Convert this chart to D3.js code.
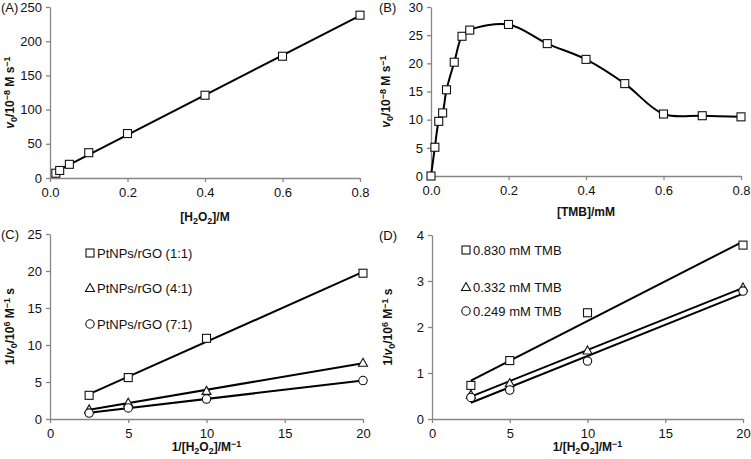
<!DOCTYPE html>
<html><head><meta charset="utf-8">
<script src="https://cdn.jsdelivr.net/npm/d3@7"></script>
<style>body{margin:0;background:#fff}svg{display:block}text{font-family:"Liberation Sans",Arial,sans-serif}</style>
</head><body><svg id="c" width="751" height="459"></svg>
<script>
// Panel A
const aX = [0.015, 0.025, 0.05, 0.1, 0.2, 0.4, 0.6, 0.8];
const aY = [7, 11, 20, 37, 65, 121, 178, 238];
// Panel B
const bX = [0, 0.01, 0.02, 0.03, 0.04, 0.06, 0.08, 0.1, 0.2, 0.3, 0.4, 0.5, 0.6, 0.7, 0.8];
const bY = [0, 5.1, 9.7, 11.2, 15.3, 20.2, 24.8, 25.9, 26.9, 23.5, 20.7, 16.4, 11.0, 10.7, 10.5];
// Panel C
const cX = [2.5, 5, 10, 20];
const cSquare = [3.2, 5.6, 10.9, 19.7];
const cTriangle = [1.3, 2.2, 3.8, 7.6];
const cCircle = [0.8, 1.5, 2.7, 5.2];
const cLegend = ["PtNPs/rGO (1:1)", "PtNPs/rGO (4:1)", "PtNPs/rGO (7:1)"];
// Panel D
const dX = [2.5, 5, 10, 20];
const dSquare = [0.73, 1.27, 2.31, 3.78];
const dTriangle = [0.53, 0.78, 1.49, 2.86];
const dCircle = [0.47, 0.63, 1.26, 2.78];
const dLegend = ["0.830 mM TMB", "0.332 mM TMB", "0.249 mM TMB"];
// ticks
const tickA_X = [0, 0.2, 0.4, 0.6, 0.8], tickA_Y = [0, 50, 100, 150, 200, 250];
const tickB_X = [0, 0.2, 0.4, 0.6, 0.8], tickB_Y = [0, 5, 10, 15, 20, 25, 30];
const tickC_X = [0, 5, 10, 15, 20], tickC_Y = [0, 5, 10, 15, 20, 25];
const tickD_X = [0, 5, 10, 15, 20], tickD_Y = [0, 1, 2, 3, 4];

const svg = d3.select("#c");
const AX = "#868686";
const SHIFT = {sub: -2.5, super: 4};

function fit(xs, ys) {
  const n = xs.length, mx = d3.mean(xs), my = d3.mean(ys);
  let sxy = 0, sxx = 0;
  for (let i = 0; i < n; i++) { sxy += (xs[i]-mx)*(ys[i]-my); sxx += (xs[i]-mx)**2; }
  const m = sxy/sxx; return x => my + m*(x-mx);
}

function marker(g, type, x, y) {
  if (type === "square") g.append("rect").attr("x", x-4).attr("y", y-4).attr("width", 8).attr("height", 8);
  else if (type === "triangle") g.append("path").attr("d", `M${x},${y-4.5}L${x+4.5},${y+3.5}L${x-4.5},${y+3.5}Z`);
  else g.append("circle").attr("cx", x).attr("cy", y).attr("r", 4.2);
}

function richText(t, parts) {
  parts.forEach(p => t.append("tspan").attr("baseline-shift", p[1] ? SHIFT[p[1]] : null)
    .attr("font-size", p[1] ? 9 : null).attr("font-style", p[2] ? "italic" : null).text(p[0]));
}

function panel(o) {
  const g = svg.append("g");
  const x = d3.scaleLinear().domain(o.xd).range(o.xr);
  const y = d3.scaleLinear().domain(o.yd).range(o.yr);
  const xa = g.append("g").attr("transform", `translate(0,${o.yr[0]})`)
    .call(d3.axisBottom(x).tickValues(o.xt).tickSize(4).tickSizeOuter(0).tickFormat(o.xf).tickPadding(6));
  const ya = g.append("g").attr("transform", `translate(${o.xr[0]},0)`)
    .call(d3.axisLeft(y).tickValues(o.yt).tickSize(4).tickSizeOuter(0).tickFormat(d3.format("d")).tickPadding(4));
  [xa, ya].forEach(a => {
    a.selectAll("path,line").attr("stroke", AX).attr("stroke-width", 1.3);
    a.selectAll("text").attr("font-size", 13).attr("fill", "#111").attr("font-family", "Liberation Sans, Arial");
  });
  g.append("text").attr("x", o.lx).attr("y", o.yr[1] + 5).attr("font-size", 13).attr("fill", "#111").text(o.label);
  const xt = g.append("text").attr("x", (o.xr[0]+o.xr[1])/2).attr("y", o.xty).attr("text-anchor", "middle")
    .attr("font-size", 12).attr("font-weight", "bold").attr("fill", "#111");
  richText(xt, o.xtitle);
  const yt = g.append("text").attr("transform", `translate(${o.ytx},${(o.yr[0]+o.yr[1])/2}) rotate(-90)`).attr("text-anchor", "middle")
    .attr("font-size", 12).attr("font-weight", "bold").attr("fill", "#111");
  richText(yt, o.ytitle);
  const lines = g.append("g"), marks = g.append("g").attr("fill", "#fff").attr("stroke", "#111").attr("stroke-width", 1.1);
  o.series.forEach(s => {
    if (s.smooth) {
      lines.append("path").attr("d", d3.line().curve(d3.curveCatmullRom.alpha(0.5)).x((d,i) => x(s.xs[i])).y(d => y(d))(s.ys))
        .attr("fill", "none").attr("stroke", "#000").attr("stroke-width", 2);
    } else {
      const f = fit(s.xs, s.ys), x0 = d3.min(s.xs), x1 = d3.max(s.xs);
      lines.append("line").attr("x1", x(x0)).attr("y1", y(f(x0))).attr("x2", x(x1)).attr("y2", y(f(x1)))
        .attr("stroke", "#000").attr("stroke-width", 2);
    }
    s.ys.forEach((v,i) => marker(marks, s.type, x(s.xs[i]), y(v)));
  });
  if (o.legend) {
    o.legend.forEach((t,i) => {
      marker(marks, o.series[i].type, o.legPos[0], o.legPos[1][i]);
      g.append("text").attr("x", o.legPos[0] + 7).attr("y", o.legPos[1][i] + 4.5).attr("font-size", 13).attr("fill", "#111").text(t);
    });
  }
}

const vTitle = [["v",null,true],["0","sub"],["/10"],["−8","super"],[" M s"],["−1","super"]];
panel({xd:[0,0.8], xr:[50,360], yd:[0,250], yr:[178,7], xt:tickA_X, yt:tickA_Y, xf:d3.format(".1f"),
  label:"(A)", lx:1, xty:221, ytx:14, xtitle:[["[H"],["2","sub"],["O"],["2","sub"],["]/M"]], ytitle:vTitle,
  series:[{xs:aX, ys:aY, type:"square"}]});
panel({xd:[0,0.8], xr:[431,741], yd:[0,30], yr:[176,7], xt:tickB_X, yt:tickB_Y, xf:d3.format(".1f"),
  label:"(B)", lx:379, xty:216, ytx:390, xtitle:[["[TMB]/mM"]], ytitle:vTitle,
  series:[{xs:bX, ys:bY, type:"square", smooth:true}]});
const invTitle = [["1/"],["v",null,true],["0","sub"],["/10"],["6","super"],[" M"],["−1","super"],[" s"]];
const invX = [["1/[H"],["2","sub"],["O"],["2","sub"],["]/M"],["−1","super"]];
panel({xd:[0,20], xr:[50,363], yd:[0,25], yr:[419,234], xt:tickC_X, yt:tickC_Y, xf:d3.format("d"),
  label:"(C)", lx:1, xty:451, ytx:14, xtitle:invX, ytitle:invTitle,
  series:[{xs:cX, ys:cSquare, type:"square"},{xs:cX, ys:cTriangle, type:"triangle"},{xs:cX, ys:cCircle, type:"circle"}],
  legend:cLegend, legPos:[90,[253,288,324]]});
panel({xd:[0,20], xr:[432,743], yd:[0,4], yr:[419,235], xt:tickD_X, yt:tickD_Y, xf:d3.format("d"),
  label:"(D)", lx:379, xty:451, ytx:392, xtitle:invX, ytitle:invTitle,
  series:[{xs:dX, ys:dSquare, type:"square"},{xs:dX, ys:dTriangle, type:"triangle"},{xs:dX, ys:dCircle, type:"circle"}],
  legend:dLegend, legPos:[466,[250,287,311]]});
</script></body></html>
